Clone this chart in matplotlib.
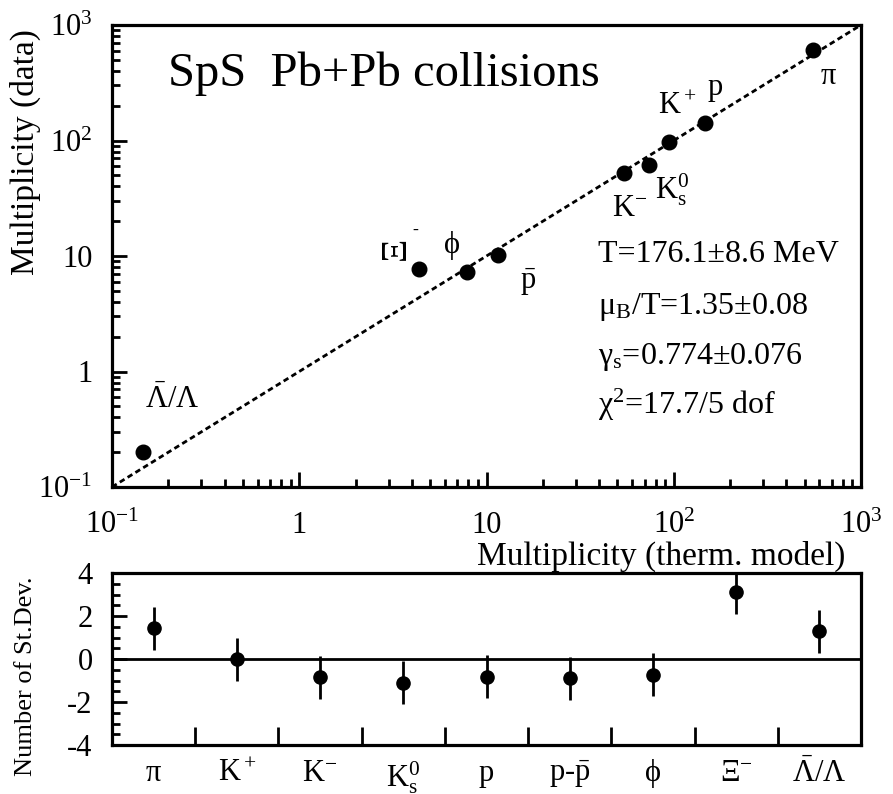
import matplotlib
matplotlib.use("Agg")
import matplotlib.pyplot as plt
import numpy as np
from matplotlib.ticker import FixedLocator, FixedFormatter, LogLocator, NullFormatter, MultipleLocator

plt.rcParams["font.family"] = ["Liberation Serif", "DejaVu Serif"]
plt.rcParams["mathtext.fontset"] = "custom"
plt.rcParams["mathtext.rm"] = "Liberation Serif"
plt.rcParams["mathtext.it"] = "Liberation Serif:italic"
plt.rcParams["mathtext.bf"] = "Liberation Serif:bold"
plt.rcParams["mathtext.default"] = "rm"

# thermal model fit vs data (SpS Pb+Pb)
particles = ["pi", "p", "K+", "K0s", "K-", "pbar", "phi", "Xi-", "Lbar/L"]
model = [555, 147, 94, 74, 54, 11.5, 7.9, 4.36, 0.146]
data = [608, 142, 97, 61, 52, 10.2, 7.3, 7.7, 0.20]
data_err = [0, 0, 0, 8, 0, 0, 0, 0, 0.02]

# deviations panel
dev_labels = ["π", r"K$^+$", r"K$^{-}$", r"K$^0_{\rm s}$", "p", r"p-$\bar{\rm p}$",
              "ϕ", r"Ξ$^{-}$", r"$\bar{\Lambda}$/Λ"]
deviation = [1.44, 0.0, -0.85, -1.1, -0.83, -0.9, -0.74, 3.1, 1.3]
dev_err = [1.0, 1.0, 1.0, 1.0, 1.0, 1.0, 1.0, 1.0, 1.0]

W, H = 893, 794
fig = plt.figure(figsize=(W / 100, H / 100), dpi=100)

ax = fig.add_axes([112 / W, 1 - 487 / H, 749 / W, 462 / H])
ax2 = fig.add_axes([112 / W, 1 - 745 / H, 749 / W, 172 / H])

for a in (ax, ax2):
    for s in a.spines.values():
        s.set_linewidth(2.3)

# ---- top panel ----
ax.set_xscale("log")
ax.set_yscale("log")
ax.set_xlim(0.1, 1000)
ax.set_ylim(0.1, 1000)
diag = [0.1, 1000]
ax.plot(diag, diag, color="black", lw=2.0, linestyle=(0, (2.0, 1.3)))
ax.errorbar(model, data, yerr=data_err, fmt="o", color="black", ms=10.5,
            elinewidth=1.6, capsize=0)

dec_labels = [r"$10^{-1}$", "1", "10", r"$10^{2}$", r"$10^{3}$"]
decades = [0.1, 1, 10, 100, 1000]
ax.xaxis.set_major_locator(FixedLocator(decades))
ax.xaxis.set_major_formatter(FixedFormatter(dec_labels))
ax.yaxis.set_major_locator(FixedLocator(decades))
ax.yaxis.set_major_formatter(FixedFormatter(dec_labels))
ax.xaxis.set_minor_locator(LogLocator(base=10, subs=np.arange(2, 10)))
ax.yaxis.set_minor_locator(LogLocator(base=10, subs=np.arange(2, 10)))
ax.xaxis.set_minor_formatter(NullFormatter())
ax.yaxis.set_minor_formatter(NullFormatter())
ax.tick_params(which="both", direction="in", top=False, right=False, width=2.0, labelsize=22)
ax.tick_params(which="major", length=11)
ax.tick_params(which="minor", length=6)
ax.tick_params(axis="x", pad=17)
ax.tick_params(axis="y", pad=14)

ax.set_ylabel("Multiplicity (data)", fontsize=24)
ax.yaxis.set_label_coords(-0.095, 0.725)
ax.set_xlabel("Multiplicity (therm. model)", fontsize=24)
ax.xaxis.set_label_coords(0.733, -0.116)

ax.text(0.075, 0.895, "SpS  Pb+Pb collisions", transform=ax.transAxes,
        fontsize=35, va="center", ha="left")

# point labels (pixel positions in the reference, converted to axes coordinates)
def px(x, y):
    return ((x - 112) / 749, (487 - y) / 462)

point_labels = [
    ("π", 828, 77, 0, 22),
    ("p", 715, 88, 0, 22),
    (r"K$^+$", 677, 106, 0, 22),
    (r"K$^0_{\rm s}$", 672, 190, 0, 22),
    (r"K$^{-}$", 630, 208, 0, 22),
    (r"$\bar{\rm p}$", 528, 282, 0, 22),
    ("ϕ", 452, 245, 0, 22),
    ("Ξ", 396, 248, 90, 26),
]
for txt, x, y, rot, fs in point_labels:
    ax.text(*px(x, y), txt, transform=ax.transAxes, fontsize=fs,
            ha="center", va="center", rotation=rot)
ax.text(*px(415, 230), "-", transform=ax.transAxes, fontsize=13,
        ha="center", va="center")
ax.text(*px(172, 400), r"$\bar{\Lambda}$/Λ", transform=ax.transAxes, fontsize=22,
        ha="center", va="center")

fit_lines = [
    ("T=176.1±8.6 MeV", 255),
    (r"μ$_{\rm B}$/T=1.35±0.08", 307),
    (r"γ$_{\rm s}$=0.774±0.076", 357),
    (r"χ$^{2}$=17.7/5 dof", 405),
]
for txt, y in fit_lines:
    ax.text(*px(598, y), txt, transform=ax.transAxes, fontsize=23,
            ha="left", va="center")

# ---- bottom panel ----
xpos = np.arange(len(deviation))
ax2.set_xlim(-0.5, len(deviation) - 0.5)
ax2.set_ylim(-4, 4)
ax2.axhline(0, color="black", lw=2.0)
ax2.errorbar(xpos, deviation, yerr=dev_err, fmt="o", color="black", ms=9.5,
             elinewidth=2.0, capsize=0)
ax2.xaxis.set_major_locator(FixedLocator(xpos + 0.5))
ax2.xaxis.set_major_formatter(NullFormatter())
ax2.xaxis.set_minor_locator(FixedLocator(xpos))
ax2.xaxis.set_minor_formatter(FixedFormatter(dev_labels))
ax2.tick_params(axis="x", which="major", direction="in", length=13, width=2.0,
                top=False)
ax2.tick_params(axis="x", which="minor", length=0, labelsize=22, pad=10)
ax2.yaxis.set_major_locator(MultipleLocator(2))
ax2.yaxis.set_minor_locator(MultipleLocator(0.5))
ax2.tick_params(axis="y", which="both", direction="in", right=False, width=2.0,
                labelsize=22, pad=14)
ax2.tick_params(axis="y", which="major", length=11)
ax2.tick_params(axis="y", which="minor", length=6)
ax2.yaxis.set_major_formatter(plt.FuncFormatter(lambda v, p: "%d" % v))
ax2.set_ylabel("Number of St.Dev.", fontsize=19)
ax2.yaxis.set_label_coords(-0.1, 0.4)

fig.savefig("out.png", dpi=100)
